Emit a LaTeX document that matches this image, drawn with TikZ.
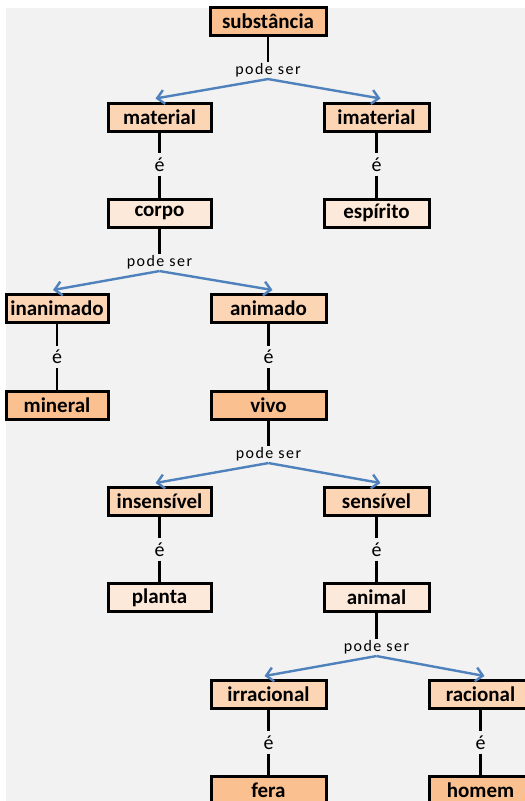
\documentclass[tikz,border=0pt]{standalone}
\usepackage{fontspec}
\setmainfont{Carlito}
\newfontfamily\labelfont[LetterSpace=9]{Carlito}
\usetikzlibrary{arrows.meta,calc}
\definecolor{bgGrey}{HTML}{F2F2F2}
\definecolor{fillDark}{HTML}{FAC090}
\definecolor{fillMid}{HTML}{FCD5B4}
\definecolor{fillLight}{HTML}{FDE9D9}
\definecolor{arrowBlue}{HTML}{4F81BD}
\tikzset{
  conceptbox/.style={draw=black, line width=3pt, minimum height=28pt,
    inner sep=0pt, font=\fontsize{21}{23}\selectfont\bfseries},
  darkbox/.style={conceptbox, fill=fillDark},
  midbox/.style={conceptbox, fill=fillMid},
  lightbox/.style={conceptbox, fill=fillLight},
  relword/.style={inner sep=1pt, minimum height=22pt, font=\fontsize{20}{22}\selectfont},
  splitword/.style={inner sep=1pt, font=\labelfont\fontsize{16}{18}\selectfont},
  link/.style={line width=2.6pt},
  branch/.style={draw=arrowBlue, line width=2.4pt,
    -{Straight Barb[length=7pt,width=14pt,line width=2.4pt]}}
}
\begin{document}
\begin{tikzpicture}[x=1pt,y=-1pt]
\useasboundingbox (0,0) rectangle (525,801);
\clip (0,0) rectangle (525,801);
\fill[bgGrey] (6,8) rectangle (525,801);

% concept boxes
\node[darkbox,  minimum width=116pt] (subst)  at (268,21)    {substância};
\node[midbox,   minimum width=103pt] (mat)    at (159.5,117) {material};
\node[midbox,   minimum width=105pt] (imat)   at (376.5,117) {imaterial};
\node[lightbox, minimum width=103pt] (corpo)  at (159.5,213) {corpo};
\node[lightbox, minimum width=105pt] (esp)    at (376.5,213) {espírito};
\node[midbox,   minimum width=102pt] (inan)   at (57,308.5)  {inanimado};
\node[midbox,   minimum width=115pt] (anim)   at (268.5,308.5) {animado};
\node[darkbox,  minimum width=102pt] (miner)  at (57,405)    {mineral};
\node[darkbox,  minimum width=115pt] (vivo)   at (268.5,405) {vivo};
\node[midbox,   minimum width=103pt] (insens) at (159.5,501.5) {insensível};
\node[midbox,   minimum width=105pt] (sens)   at (376.5,501.5) {sensível};
\node[lightbox, minimum width=103pt] (planta) at (159.5,597.5) {planta};
\node[lightbox, minimum width=105pt] (animal) at (376.5,597.5) {animal};
\node[midbox,   minimum width=115pt] (irrac)  at (268.5,694.5) {irracional};
\node[midbox,   minimum width=103pt] (rac)    at (480.5,694.5) {racional};
\node[darkbox,  minimum width=115pt] (fera)   at (268.5,790.5) {fera};
\node[darkbox,  minimum width=103pt] (homem)  at (480.5,790.5) {homem};

% "é" links
\foreach \up/\down/\y in {mat/corpo/164.5, imat/esp/164.5, inan/miner/357,
    anim/vivo/357, insens/planta/549.5, sens/animal/549.5,
    irrac/fera/742.5, rac/homem/742.5}{
  \node[relword] (e-\up) at (\up.south |- 0,\y) {é};
  \draw[link] (\up.south) -- (e-\up.north);
  \draw[link] (e-\up.south) -- (\down.north);
}

% "pode ser" splits
\foreach \up/\left/\right/\y in {subst/mat/imat/70, corpo/inan/anim/262,
    vivo/insens/sens/454, animal/irrac/rac/647}{
  \node[splitword] (s-\up) at (\up.south |- 0,\y) {pode ser};
  \draw[link] (\up.south) -- (s-\up.north);
  \coordinate (f-\up) at ($(s-\up.south)+(0,1)$);
  \draw[branch] (f-\up) -- ($(\left.north)+(-4,-3)$);
  \draw[branch] (f-\up) -- ($(\right.north)+(4,-3)$);
}
\end{tikzpicture}
\end{document}
